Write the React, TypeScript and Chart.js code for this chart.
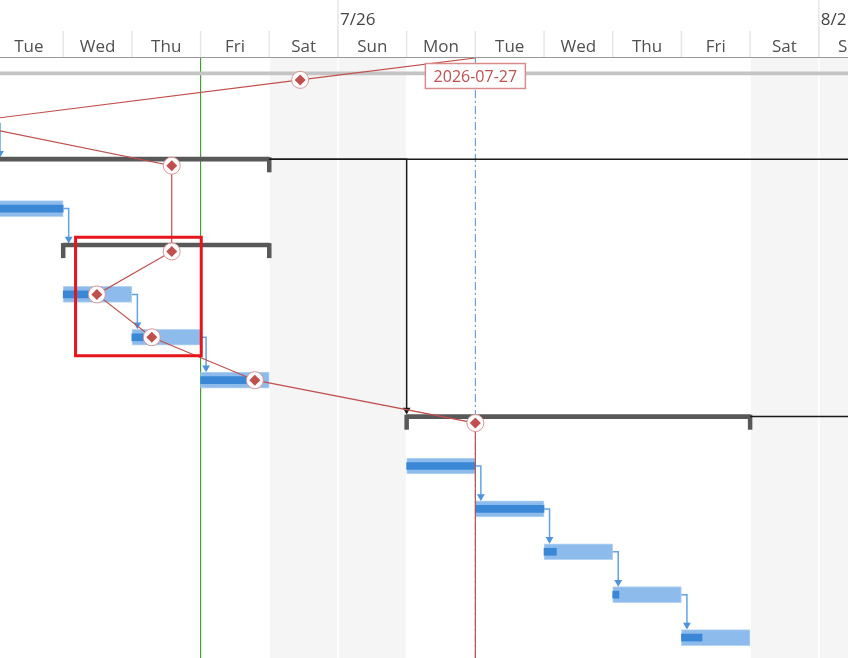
import React, { useEffect, useRef } from "react";
import { Chart, registerables } from "chart.js";

Chart.register(...registerables);

// ---- Timeline (day index 0 = Tue 2026-07-21) ----
const dayNames = ["Tue", "Wed", "Thu", "Fri", "Sat", "Sun", "Mon", "Tue", "Wed", "Thu", "Fri", "Sat", "Sun"];
const weekLabels = ["7/26", "8/2"];
const weekStartDays = [5, 12];
const weekendDays = [4, 5, 11, 12];
const todayDay = 3;
const statusDay = 7;
const statusLabel = "2026-07-27";

// ---- Tasks ----
const taskRows = [1, 3, 5, 6, 7, 9, 10, 11, 12, 13];
const taskStarts = [-1, -1, 1, 2, 3, 6, 7, 8, 9, 10];
const taskEnds = [0, 1, 2, 3, 4, 7, 8, 9, 10, 11];
const taskDone = [0, 1, 1.49, 2.29, 3.79, 7, 8, 8.18, 9.09, 10.3];

// ---- Summaries ----
const projectRow = 0;
const projectStart = -3;
const projectEnd = 16;
const summaryRows = [2, 4, 8];
const summaryStarts = [-2, 1, 6];
const summaryEnds = [4, 4, 11];

// ---- Links ----
const linkFrom = [1, 3, 5, 6, 9, 10, 11, 12];
const linkTo = [2, 4, 6, 7, 10, 11, 12, 13];
const summaryLinkFrom = [2];
const summaryLinkTo = [8];
const openSuccessorRows = [2, 8];

// ---- Progress line ----
const progressRows = [0, 1, 2, 4, 5, 6, 7, 8, 13];
const progressDays = [4.45, -0.5, 2.58, 2.58, 1.49, 2.29, 3.79, 7, 7];
const progressMarked = [true, true, true, true, true, true, true, true, false];

// ---- Highlight box (days, rows) ----
const highlightDays = [1.18, 3.01];
const highlightRows = [3.67, 6.43];

// ---- Scale ranges ----
const X_MIN = 0.0801;
const X_MAX = 12.425;
const Y_MIN = -0.51;
const Y_MAX = 13.476;
const HEADER_H = 58;
const ROW_PX = (658 - HEADER_H) / (Y_MAX - Y_MIN);
const DAY_PX = 848 / (X_MAX - X_MIN);
const SUM_SHIFT = 6.5 / ROW_PX;
const LINK_OFF = 5.5 / DAY_PX;
const ARROW_R = 4.5;

const FONT = '"Open Sans", "Noto Sans", sans-serif';

const ganttFrame = {
  id: "ganttFrame",
  beforeDatasetsDraw(chart: any) {
    const { ctx, chartArea: a, scales } = chart;
    const x = scales.x;
    const px = (d: number) => x.getPixelForValue(d);
    ctx.save();
    // weekend shading
    ctx.fillStyle = "#f5f5f5";
    weekendDays.forEach((d) => {
      const l = Math.max(px(d), a.left);
      const r = Math.min(px(d + 1), a.right);
      if (r > l) ctx.fillRect(l, a.top, r - l, a.bottom - a.top);
    });
    // body grid
    ctx.strokeStyle = "#ffffff";
    ctx.lineWidth = 1.5;
    for (let d = Math.ceil(X_MIN); d <= X_MAX; d++) {
      ctx.beginPath();
      ctx.moveTo(px(d), a.top);
      ctx.lineTo(px(d), a.bottom);
      ctx.stroke();
    }
    // header separators
    ctx.strokeStyle = "#e6e6e6";
    ctx.lineWidth = 1.5;
    for (let d = Math.ceil(X_MIN); d <= X_MAX; d++) {
      ctx.beginPath();
      ctx.moveTo(px(d), a.top - 27);
      ctx.lineTo(px(d), a.top);
      ctx.stroke();
    }
    weekStartDays.forEach((d) => {
      ctx.beginPath();
      ctx.moveTo(px(d), 0);
      ctx.lineTo(px(d), a.top);
      ctx.stroke();
    });
    // header bottom line
    ctx.strokeStyle = "#999999";
    ctx.lineWidth = 1;
    ctx.beginPath();
    ctx.moveTo(0, a.top - 0.5);
    ctx.lineTo(chart.width, a.top - 0.5);
    ctx.stroke();
    // labels
    ctx.font = "17px " + FONT;
    ctx.fillStyle = "#505050";
    ctx.textAlign = "center";
    ctx.textBaseline = "alphabetic";
    dayNames.forEach((n, i) => ctx.fillText(n, px(i + 0.5), a.top - 6));
    ctx.textAlign = "left";
    ctx.fillStyle = "#444444";
    weekLabels.forEach((l, i) => ctx.fillText(l, px(weekStartDays[i]) + 2, a.top - 33));
    ctx.restore();
  },
  afterDatasetsDraw(chart: any) {
    const { ctx, chartArea: a, scales } = chart;
    const cx = scales.x.getPixelForValue(statusDay);
    const w = 100;
    const h = 25;
    const cy = a.top + 18;
    ctx.save();
    ctx.fillStyle = "#ffffff";
    ctx.fillRect(cx - w / 2, cy - h / 2, w, h);
    ctx.strokeStyle = "#d98c8c";
    ctx.lineWidth = 1.5;
    ctx.strokeRect(cx - w / 2, cy - h / 2, w, h);
    ctx.font = "16px " + FONT;
    ctx.fillStyle = "#c0504d";
    ctx.textAlign = "center";
    ctx.textBaseline = "middle";
    ctx.fillText(statusLabel, cx, cy + 1);
    ctx.restore();
  },
};

function buildDatasets() {
  const ds: any[] = [];
  const endOf = (row: number) => taskEnds[taskRows.indexOf(row)];

  ds.push({
    type: "line", data: [{ x: todayDay, y: Y_MIN }, { x: todayDay, y: Y_MAX }],
    borderColor: "#4a9a3c", borderWidth: 1, pointRadius: 0, order: 100,
  });
  ds.push({
    type: "line", data: [{ x: statusDay, y: Y_MIN }, { x: statusDay, y: Y_MAX }],
    borderColor: "#4f8fd6", borderWidth: 1, borderDash: [8, 3, 2, 3], pointRadius: 0, order: 99,
  });
  ds.push({
    type: "bar", indexAxis: "y", yAxisID: "y",
    data: taskRows.map((r, i) => ({ x: [taskStarts[i], taskEnds[i]], y: r })),
    backgroundColor: "#8cbbec", borderColor: "#b6d4f4", borderWidth: 1, borderSkipped: false,
    barThickness: 16, grouped: false, order: 90,
  });
  ds.push({
    type: "bar", indexAxis: "y", yAxisID: "y",
    data: taskRows.map((r, i) => ({ x: [taskStarts[i], taskDone[i]], y: r })),
    backgroundColor: "#3a87d5", barThickness: 7, grouped: false, order: 89,
  });
  linkFrom.forEach((f, i) => {
    const t = linkTo[i];
    const xe = endOf(f) + LINK_OFF;
    const ay = t - (8 + ARROW_R) / ROW_PX;
    ds.push({
      type: "line", yAxisID: "y",
      data: [{ x: endOf(f), y: f }, { x: xe, y: f }, { x: xe, y: ay }],
      borderColor: "#62a3e8", borderWidth: 1.5,
      pointRadius: [0, 0, ARROW_R], pointStyle: "triangle", pointRotation: 180,
      pointBackgroundColor: "#4a94e2", pointBorderWidth: 0, order: 80,
    });
  });
  ds.push({
    type: "bar", indexAxis: "y", yAxisID: "ySum",
    data: [{ x: [projectStart, projectEnd], y: projectRow }],
    backgroundColor: "#c4c4c4", barThickness: 3, grouped: false, order: 76,
  });
  ds.push({
    type: "bar", indexAxis: "y", yAxisID: "ySum",
    data: summaryRows.map((r, i) => ({ x: [summaryStarts[i], summaryEnds[i]], y: r })),
    backgroundColor: "#585858", barThickness: 4, grouped: false, order: 75,
  });
  ds.push({
    type: "scatter", yAxisID: "y",
    data: summaryRows.flatMap((r, i) => [{ x: summaryStarts[i], y: r - 0.02 }, { x: summaryEnds[i], y: r - 0.02 }]),
    pointStyle: "line", pointRotation: 90, pointRadius: 7.5, pointBorderWidth: 4.5,
    pointBorderColor: "#585858", pointBackgroundColor: "#585858", order: 74,
  });
  summaryLinkFrom.forEach((f, i) => {
    const t = summaryLinkTo[i];
    const sx = summaryEnds[summaryRows.indexOf(f)];
    const tx = summaryStarts[summaryRows.indexOf(t)];
    const ay = t - (2 + ARROW_R) / ROW_PX;
    ds.push({
      type: "line", yAxisID: "ySum",
      data: [{ x: sx, y: f }, { x: tx, y: f }, { x: tx, y: ay }],
      borderColor: "#1a1a1a", borderWidth: 1.5,
      pointRadius: [0, 0, ARROW_R], pointStyle: "triangle", pointRotation: 180,
      pointBackgroundColor: "#1a1a1a", pointBorderWidth: 0, order: 70,
    });
  });
  openSuccessorRows.forEach((r) => {
    const e = summaryEnds[summaryRows.indexOf(r)];
    ds.push({
      type: "line", yAxisID: "ySum",
      data: [{ x: e, y: r }, { x: X_MAX + 1, y: r }],
      borderColor: "#1a1a1a", borderWidth: 1.5, pointRadius: 0, order: 70,
    });
  });
  const pts = progressRows.map((r, i) => ({ x: progressDays[i], y: r }));
  ds.push({
    type: "line", yAxisID: "y",
    data: [{ x: statusDay, y: Y_MIN }, ...pts, { x: statusDay, y: Y_MAX }],
    borderColor: "#c0504d", borderWidth: 1.2, pointRadius: 0, order: 60,
  });
  const marked = pts.filter((_, i) => progressMarked[i]);
  ds.push({
    type: "scatter", yAxisID: "y", data: marked,
    pointStyle: "circle", pointRadius: 8.5, pointBackgroundColor: "#ffffff",
    pointBorderColor: "#dc9494", pointBorderWidth: 1, order: 50,
  });
  ds.push({
    type: "scatter", yAxisID: "y", data: marked,
    pointStyle: "rectRot", pointRadius: 5.5, pointBackgroundColor: "#c0504d",
    pointBorderWidth: 0, order: 49,
  });
  const [h0, h1] = highlightDays;
  const [r0, r1] = highlightRows;
  ds.push({
    type: "line", yAxisID: "y",
    data: [{ x: h0, y: r0 }, { x: h1, y: r0 }, { x: h1, y: r1 }, { x: h0, y: r1 }, { x: h0, y: r0 }, { x: h1, y: r0 }],
    borderColor: "#e8141c", borderWidth: 3, pointRadius: 0, order: 0, borderJoinStyle: "miter",
  });
  return ds;
}

export default function App() {
  const ref = useRef<HTMLCanvasElement | null>(null);
  useEffect(() => {
    if (!ref.current) return;
    const chart = new Chart(ref.current, {
      type: "scatter",
      data: { datasets: buildDatasets() },
      options: {
        responsive: false,
        animation: false,
        devicePixelRatio: 1,
        events: [],
        layout: { autoPadding: false, padding: { top: HEADER_H, left: 0, right: 0, bottom: 0 } },
        plugins: { legend: { display: false }, tooltip: { enabled: false } },
        scales: {
          x: { type: "linear", min: X_MIN, max: X_MAX, display: false, offset: false },
          y: { type: "linear", reverse: true, min: Y_MIN, max: Y_MAX, display: false, offset: false },
          ySum: {
            type: "linear", axis: "y", reverse: true, min: Y_MIN + SUM_SHIFT, max: Y_MAX + SUM_SHIFT,
            display: false, offset: false,
          },
        },
      } as any,
      plugins: [ganttFrame],
    });
    return () => chart.destroy();
  }, []);
  return (
    <div style={{ position: "fixed", left: 0, top: 0, width: 848, height: 658, background: "#ffffff" }}>
      <canvas ref={ref} width={848} height={658} style={{ display: "block", width: 848, height: 658 }} />
    </div>
  );
}
